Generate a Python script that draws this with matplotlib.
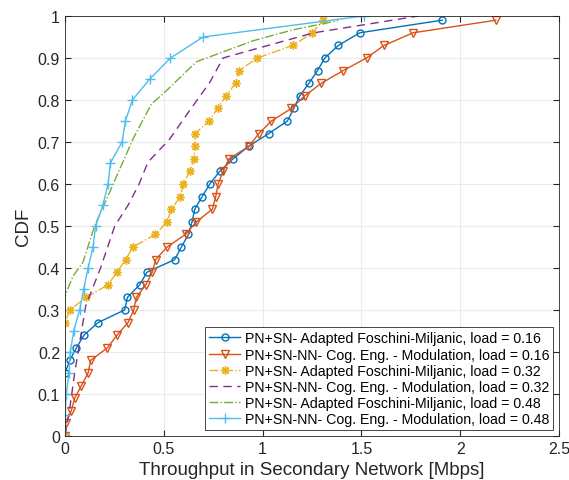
import matplotlib
matplotlib.use('Agg')
import matplotlib.pyplot as plt

plt.rcParams['font.family'] = ['Liberation Sans', 'DejaVu Sans']

# PN+SN- Adapted Foschini-Miljanic, load = 0.16
fm16_x = [0, 0, 0.024, 0.058, 0.096, 0.167, 0.302, 0.316, 0.378, 0.415, 0.555, 0.589, 0.625,
          0.643, 0.657, 0.694, 0.733, 0.783, 0.851, 0.930, 1.031, 1.126, 1.158, 1.188, 1.235,
          1.278, 1.315, 1.384, 1.492, 1.909]
fm16_y = [0, 0.15, 0.18, 0.21, 0.24, 0.27, 0.30, 0.33, 0.36, 0.39, 0.42, 0.45, 0.48,
          0.51, 0.54, 0.57, 0.60, 0.63, 0.66, 0.69, 0.72, 0.75, 0.78, 0.81, 0.84,
          0.87, 0.90, 0.93, 0.96, 0.99]

# PN+SN-NN- Cog. Eng. - Modulation, load = 0.16
ce16_x = [0, 0.004, 0.032, 0.049, 0.083, 0.117, 0.130, 0.215, 0.263, 0.319, 0.348, 0.361,
          0.409, 0.442, 0.459, 0.517, 0.610, 0.665, 0.746, 0.763, 0.775, 0.800, 0.830, 0.932,
          0.981, 1.045, 1.146, 1.214, 1.298, 1.408, 1.526, 1.615, 1.762, 2.181]
ce16_y = [0, 0.03, 0.06, 0.09, 0.12, 0.15, 0.18, 0.21, 0.24, 0.27, 0.30, 0.33,
          0.36, 0.39, 0.42, 0.45, 0.48, 0.51, 0.54, 0.57, 0.60, 0.63, 0.66, 0.69,
          0.72, 0.75, 0.78, 0.81, 0.84, 0.87, 0.90, 0.93, 0.96, 0.99]

# PN+SN- Adapted Foschini-Miljanic, load = 0.32
fm32_x = [0, 0, 0.024, 0.108, 0.218, 0.263, 0.307, 0.344, 0.458, 0.516, 0.539, 0.584, 0.598,
          0.631, 0.653, 0.657, 0.660, 0.729, 0.772, 0.814, 0.864, 0.880, 0.974, 1.154,
          1.252, 1.306]
fm32_y = [0, 0.27, 0.30, 0.33, 0.36, 0.39, 0.42, 0.45, 0.48, 0.51, 0.54, 0.57, 0.60,
          0.63, 0.66, 0.69, 0.72, 0.75, 0.78, 0.81, 0.84, 0.87, 0.90, 0.93,
          0.96, 0.99]

# PN+SN-NN- Cog. Eng. - Modulation, load = 0.32
ce32_x = [0, 0.024, 0.049, 0.105, 0.18, 0.252, 0.32, 0.375, 0.42, 0.53, 0.631, 0.733, 0.80,
          0.99, 1.26, 1.79]
ce32_y = [0, 0.065, 0.15, 0.31, 0.40, 0.50, 0.55, 0.60, 0.652, 0.707, 0.775, 0.842, 0.90,
          0.925, 0.96, 1.0]

# PN+SN- Adapted Foschini-Miljanic, load = 0.48
fm48_x = [0, 0, 0.007, 0.04, 0.091, 0.15, 0.235, 0.344, 0.437, 0.513, 0.665, 0.952, 1.154,
          1.382]
fm48_y = [0, 0.33, 0.342, 0.38, 0.414, 0.50, 0.59, 0.707, 0.79, 0.822, 0.891, 0.941, 0.967,
          0.989]

# PN+SN-NN- Cog. Eng. - Modulation, load = 0.48
ce48_x = [0, 0, 0.007, 0.02, 0.027, 0.044, 0.074, 0.095, 0.117, 0.142, 0.155, 0.192, 0.218,
          0.23, 0.289, 0.306, 0.341, 0.429, 0.534, 0.699, 1.512]
ce48_y = [0, 0.05, 0.10, 0.15, 0.20, 0.25, 0.30, 0.35, 0.40, 0.45, 0.50, 0.55, 0.60,
          0.65, 0.70, 0.75, 0.80, 0.85, 0.90, 0.95, 1.0]

fig = plt.figure(figsize=(5.69, 4.81), dpi=100)
ax = fig.add_axes([0.1142, 0.0915, 0.8682, 0.8732])

ax.plot(fm16_x, fm16_y, '-o', color='#0072BD', lw=1, ms=5, mfc='none', mew=1,
        label='PN+SN- Adapted Foschini-Miljanic, load = 0.16')
ax.plot(ce16_x, ce16_y, '-v', color='#D95319', lw=1, ms=6, mfc='none', mew=1,
        label='PN+SN-NN- Cog. Eng. - Modulation, load = 0.16')
ax.plot(fm32_x, fm32_y, '-.', marker=(8, 2, 0), color='#EDB120', lw=1, ms=6, mew=1,
        label='PN+SN- Adapted Foschini-Miljanic, load = 0.32')
ax.plot(ce32_x, ce32_y, '--', color='#7E2F8E', lw=1, dashes=(6, 4),
        label='PN+SN-NN- Cog. Eng. - Modulation, load = 0.32')
ax.plot(fm48_x, fm48_y, '-.', color='#77AC30', lw=1,
        label='PN+SN- Adapted Foschini-Miljanic, load = 0.48')
ax.plot(ce48_x, ce48_y, '-+', color='#4DBEEE', lw=1, ms=7, mew=1,
        label='PN+SN-NN- Cog. Eng. - Modulation, load = 0.48')

ax.set_xlim(0, 2.5)
ax.set_ylim(0, 1)
ax.set_xticks([0, 0.5, 1, 1.5, 2, 2.5])
ax.set_xticklabels(['0', '0.5', '1', '1.5', '2', '2.5'])
ax.set_yticks([0, 0.1, 0.2, 0.3, 0.4, 0.5, 0.6, 0.7, 0.8, 0.9, 1])
ax.set_yticklabels(['0', '0.1', '0.2', '0.3', '0.4', '0.5', '0.6', '0.7', '0.8', '0.9', '1'])
ax.grid(True, color='#ebebeb', lw=0.8)
ax.set_axisbelow(True)
ax.tick_params(direction='in', top=True, right=True, labelsize=11.5, length=4,
               color='#262626', labelcolor='#262626')
for s in ax.spines.values():
    s.set_color('#262626')
    s.set_linewidth(0.6)

ax.set_xlabel('Throughput in Secondary Network [Mbps]', fontsize=13.5, color='#262626')
ax.set_ylabel('CDF', fontsize=13.5, color='#262626')

leg = ax.legend(loc='lower right', fontsize=10.2, handlelength=2.2, handletextpad=0.3,
                labelspacing=0.15, borderpad=0.3, borderaxespad=0.4, fancybox=False,
                framealpha=1)
leg.get_frame().set_edgecolor('#262626')
leg.get_frame().set_linewidth(0.6)

fig.savefig('out.png', dpi=100)
